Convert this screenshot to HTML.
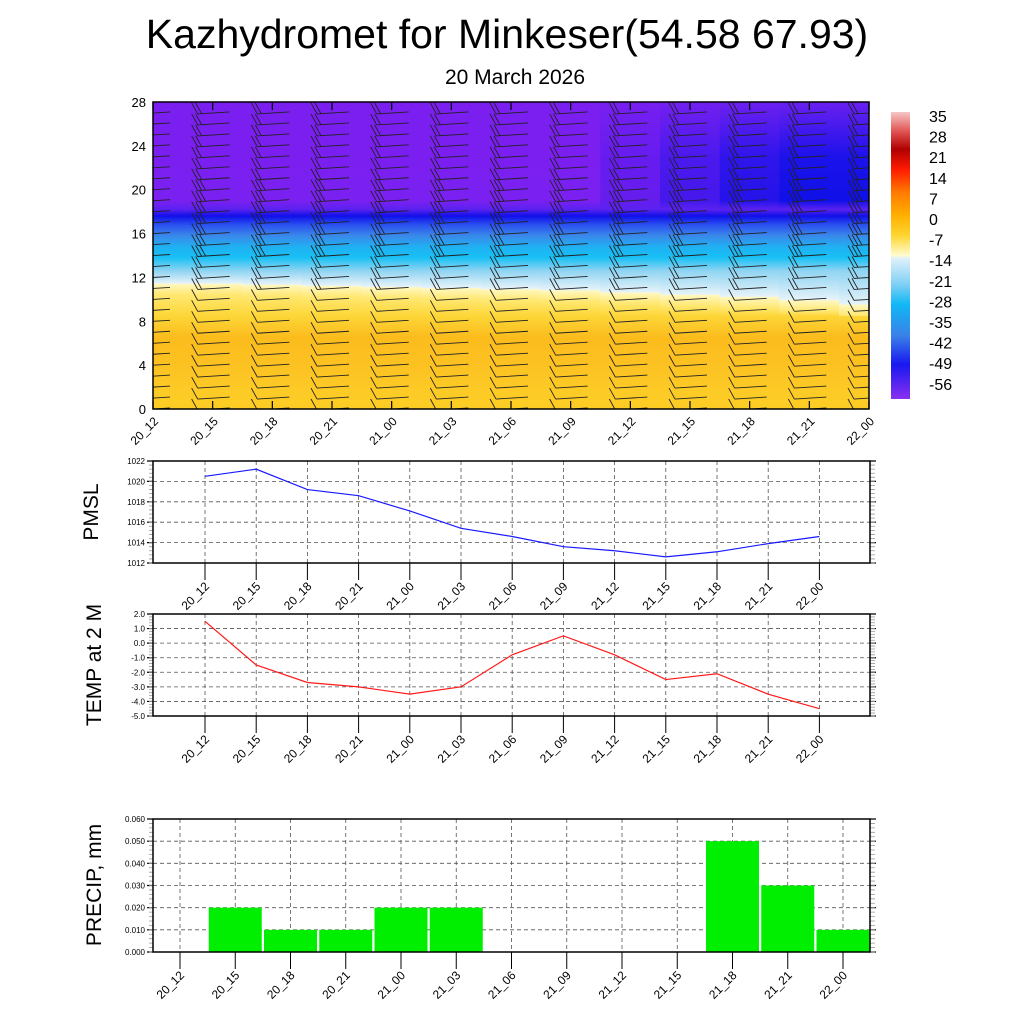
<!DOCTYPE html>
<html><head><meta charset="utf-8"><style>
body{margin:0;background:#fff;}
svg{display:block;font-family:"Liberation Sans",sans-serif;}
</style></head><body>
<svg id="c" width="1024" height="1024" viewBox="0 0 1024 1024" xmlns="http://www.w3.org/2000/svg">
<text x="507" y="48" font-size="41" text-anchor="middle">Kazhydromet for Minkeser(54.58 67.93)</text>
<text x="515" y="84" font-size="21" text-anchor="middle">20 March 2026</text>
<defs>
<linearGradient id="cbar" x1="0" y1="0" x2="0" y2="1">
<stop offset="0" stop-color="#f7c6c6"/><stop offset="0.07" stop-color="#e05050"/><stop offset="0.13" stop-color="#b00000"/><stop offset="0.2" stop-color="#ff1a00"/><stop offset="0.28" stop-color="#ff7a00"/><stop offset="0.36" stop-color="#ffb000"/><stop offset="0.43" stop-color="#ffd530"/><stop offset="0.5" stop-color="#fffbd0"/><stop offset="0.51" stop-color="#e0f0fa"/><stop offset="0.6" stop-color="#80d0f5"/><stop offset="0.67" stop-color="#10b8f5"/><stop offset="0.78" stop-color="#3a80e8"/><stop offset="0.88" stop-color="#1818f0"/><stop offset="1" stop-color="#8a30f0"/>
</linearGradient>
<clipPath id="hmclip"><rect x="153" y="102" width="716" height="307"/></clipPath>
<clipPath id="pclip"><rect x="153" y="819" width="717" height="133"/></clipPath>
</defs>
<g id="heat" clip-path="url(#hmclip)"></g>
<g id="barbs" clip-path="url(#hmclip)"></g>
<rect x="153" y="102" width="716" height="307" fill="none" stroke="#000" stroke-width="1.5"/>
<g id="hmaxes"></g>
<rect x="891" y="112" width="19" height="287" fill="url(#cbar)"/>
<g id="cblab" font-size="16"></g>
<g id="p1"></g><g id="p2"></g><g id="p3"></g>
<text transform="translate(98,512) rotate(-90)" font-size="21" text-anchor="middle">PMSL</text>
<text transform="translate(101,665) rotate(-90)" font-size="21" text-anchor="middle">TEMP at 2 M</text>
<text transform="translate(101,885) rotate(-90)" font-size="21" text-anchor="middle">PRECIP, mm</text>
</svg>
<script>
const times=["20_12","20_15","20_18","20_21","21_00","21_03","21_06","21_09","21_12","21_15","21_18","21_21","22_00"];
const yellowTop=[11.4,11.4,11.3,11.2,11.1,11.0,10.9,10.8,10.6,10.4,10.2,9.9,9.5];
const darkUpper=[0,0,0,0,0,0,0,0,0.2,0.5,0.8,1,1];
const pmsl=[1020.5,1021.2,1019.2,1018.6,1017.1,1015.4,1014.6,1013.6,1013.2,1012.6,1013.1,1013.9,1014.6];
const temp=[1.5,-1.5,-2.7,-3.0,-3.5,-3.0,-0.8,0.5,-0.8,-2.5,-2.1,-3.5,-4.5];
const precip=[0,0.02,0.01,0.01,0.02,0.02,0,0,0,0,0.05,0.03,0.01];
const cbLabels=["35","28","21","14","7","0","-7","-14","-21","-28","-35","-42","-49","-56"];
const levelTicks=[0,4,8,12,16,20,24,28];
const NS="http://www.w3.org/2000/svg";
function mk(tag,attrs,parent,text){const e=document.createElementNS(NS,tag);for(const k in attrs)e.setAttribute(k,attrs[k]);if(text!==undefined)e.textContent=text;parent.appendChild(e);return e;}
const svg=document.getElementById('c');
const hx=i=>153+i*(716/12), hy=z=>409-z*(307/28);
const defs=svg.querySelector('defs');
const heat=document.getElementById('heat');
function mix(a,b,t){const p=s=>[1,3,5].map(i=>parseInt(s.substr(i,2),16));const A=p(a),B=p(b);return '#'+A.map((v,i)=>Math.round(v+(B[i]-v)*t).toString(16).padStart(2,'0')).join('');}
times.forEach((t,i)=>{
  const yt=yellowTop[i], d=darkUpper[i];
  const g=mk('linearGradient',{id:'hg'+i,x1:0,y1:hy(28),x2:0,y2:hy(0),gradientUnits:'userSpaceOnUse'},defs);
  const up=mix('#7a1ff0','#1c12ea',d);
  const stops=[[28,mix('#7a1ff0','#6a20f0',d)],[23,up],[19,mix('#7a20f0','#1010e8',d)],[18.2,'#5a22f0'],[17.6,'#1010e8'],[16.8,'#2a50f0'],[15.8,'#3a88ea'],[14.8,'#20b0f2'],[13.8,'#18c0f5'],[12.6,'#90d4f2'],[yt+0.05,'#e6f3fa'],[yt,'#fff8c0'],[yt-1,'#ffe770'],[8.5,'#fdd638'],[6.5,'#fbbc1c'],[4,'#fcc222'],[1.5,'#fdcb26'],[0,'#fdcc24']];
  stops.forEach(s=>mk('stop',{offset:((hy(s[0])-hy(28))/307).toFixed(4),'stop-color':s[1]},g));
  const r=mk('rect',{x:hx(i)-30,y:102,width:61,height:307,fill:'url(#hg'+i+')'},heat);
  
  
});
const barbs=document.getElementById('barbs');
times.forEach((t,i)=>{
  for(let z=0;z<28;z++){
    const x=hx(i), y=hy(z);
    const n=z<11?1:(z<14?2:(z<21?3:2));
    let d=`M${x-15} ${y+1}L${x+17} ${y-1}`;
    for(let k=0;k<n;k++){const bx=x-15+k*4;d+=`M${bx} ${y+1-k*0.2}L${bx-6} ${y-10}`;}
    const p=mk('path',{d:d,stroke:'#222',fill:'none','stroke-width':0.9},barbs);
    
    
  }
});
const hax=document.getElementById('hmaxes');
levelTicks.forEach(v=>{
  const l=mk('text',{x:146,y:hy(v)+5,'font-size':13,'text-anchor':'end'},hax,String(v));
  
  
});
times.forEach((t,i)=>{
  mk('path',{d:`M${hx(i)} 102v8M${hx(i)} 409v-8`,stroke:'#000','stroke-width':1.2},hax);
  const l=mk('text',{transform:`translate(${hx(i)+6},${422}) rotate(-45)`,'font-size':12,'text-anchor':'end'},hax,t);
  
  
});
const cbl=document.getElementById('cblab');
cbLabels.forEach((s,k)=>{
  const l=mk('text',{x:929,y:122+k*20.6},cbl,s);
  
  
});
function panel(gid,top,bot,ymin,ymax,step,fmt,minor,x0,dx,name){
  const g=document.getElementById(gid);
  const L=153,R=870;
  const Y=v=>bot-(v-ymin)/(ymax-ymin)*(bot-top);
  const X=i=>x0+i*dx;
  for(let v=ymin;v<=ymax+1e-9;v+=step){
    const y=Y(v);
    if(v>ymin+1e-9&&v<ymax-1e-9) mk('line',{x1:L,x2:R,y1:y,y2:y,stroke:'#555','stroke-dasharray':'4 3','stroke-width':0.8},g);
    mk('path',{d:`M${L-6} ${y}H${L}M${R} ${y}h6`,stroke:'#000','stroke-width':1.2},g);
    const l=mk('text',{x:L-8,y:y+3,'font-size':8,'text-anchor':'end'},g,fmt(v));
    
    
  }
  for(let v=ymin;v<ymax-1e-9;v+=step/minor){
    const y=Y(v);
    mk('path',{d:`M${L-4} ${y}H${L}M${R} ${y}h5`,stroke:'#999','stroke-width':0.8},g);
  }
  times.forEach((t,i)=>{
    const x=X(i);
    mk('line',{x1:x,x2:x,y1:top,y2:bot,stroke:'#555','stroke-dasharray':'4 3','stroke-width':0.8},g);
    mk('line',{x1:x,x2:x,y1:bot,y2:bot+17,stroke:'#000','stroke-width':1},g);
    const l=mk('text',{transform:`translate(${x+5},${bot+24}) rotate(-45)`,'font-size':12,'text-anchor':'end'},g,t);
    
    
  });
  return {g,X,Y,L,R,top,bot};
}
function frame(P,name){
  const f=mk('rect',{x:P.L,y:P.top,width:P.R-P.L,height:P.bot-P.top,fill:'none',stroke:'#000','stroke-width':1.5},P.g);
  
  
}
const P1=panel('p1',461,563,1012,1022,2,v=>String(v),5,205,51.2,'pmsl');
const l1=mk('polyline',{points:pmsl.map((v,i)=>P1.X(i)+','+P1.Y(v)).join(' '),fill:'none',stroke:'#1a1aff','stroke-width':1.2},P1.g);


frame(P1,'pmsl');
const P2=panel('p2',614,716,-5,2,1,v=>v.toFixed(1),5,205,51.2,'temp');
const l2=mk('polyline',{points:temp.map((v,i)=>P2.X(i)+','+P2.Y(v)).join(' '),fill:'none',stroke:'#ff1a1a','stroke-width':1.2},P2.g);


frame(P2,'temp');
const P3=panel('p3',819,952,0,0.06,0.01,v=>v.toFixed(3),5,180,55.25,'precip');
const bars=mk('g',{'clip-path':'url(#pclip)'},P3.g);
precip.forEach((v,i)=>{
  if(v<=0)return;
  const y=P3.Y(v);
  const b=mk('rect',{x:P3.X(i)-26.5,y:y,width:53,height:952-y,fill:'#00ee00'},bars);
  
  
});
frame(P3,'precip');
</script>
</body></html>
